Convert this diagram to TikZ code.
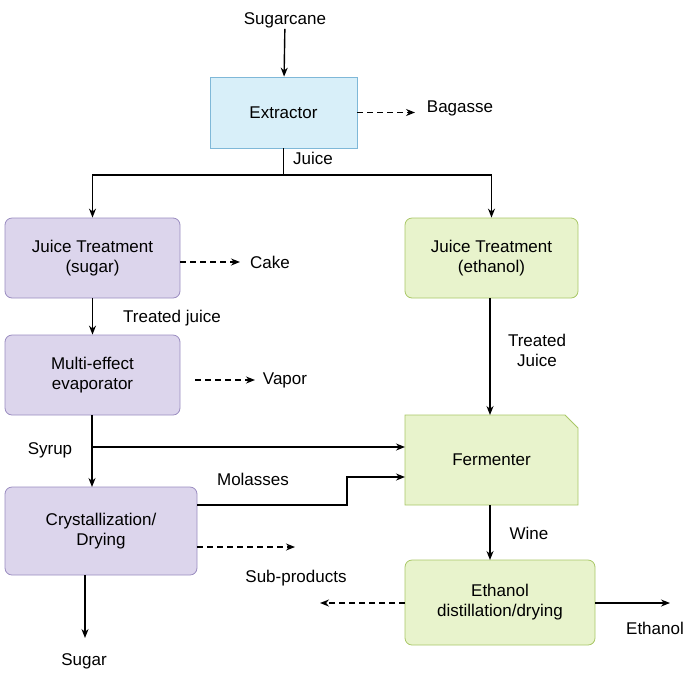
\documentclass[tikz,border=0pt]{standalone}
\usepackage{fontspec}
\setmainfont{Liberation Sans}
\usetikzlibrary{arrows.meta}
\definecolor{bluef}{HTML}{D8EFF9}\definecolor{blued}{HTML}{7FB8D8}
\definecolor{purf}{HTML}{DCD5EC}\definecolor{purd}{HTML}{9A8CC0}
\definecolor{grnf}{HTML}{E8F3CC}\definecolor{grnd}{HTML}{A9C766}
\begin{document}
\begin{tikzpicture}[x=1pt,y=-1pt,font=\fontsize{17}{20}\selectfont,
 box/.style={draw,line width=0.8pt,rounded corners=7pt,align=center,inner sep=0pt},
 pur/.style={box,fill=purf,draw=purd},
 grn/.style={box,fill=grnf,draw=grnd},
 arr/.style={-{Stealth[length=9pt,width=7pt]},line width=1.4pt},
 darr/.style={arr,dash pattern=on 6pt off 4pt},
 lbl/.style={inner sep=1pt}]
\useasboundingbox (0,0) rectangle (700,678);
\node[lbl] (cane) at (285,20) {Sugarcane};
\node[box,fill=bluef,draw=blued,rounded corners=0pt,minimum width=147,minimum height=71] (ext) at (283.5,112.5) {Extractor};
\node[lbl] (bag) at (460,108) {Bagasse};
\node[lbl] (juice) at (313,158) {Juice};
\node[pur,minimum width=175,minimum height=80] (jts) at (92.5,258) {Juice Treatment\\(sugar)};
\node[grn,minimum width=173,minimum height=80] (jte) at (491.5,258) {Juice Treatment\\(ethanol)};
\node[lbl] (cake) at (270,262) {Cake};
\node[lbl] (tj) at (172,318) {Treated juice};
\node[pur,minimum width=175,minimum height=80] (mee) at (92.5,375) {Multi-effect\\evaporator};
\node[lbl] (vap) at (285,380) {Vapor};
\node[lbl,align=center] (tj2) at (537,350) {Treated\\Juice};
\fill[grnf,draw=grnd,line width=0.8pt] (405,415) -- (565,415) -- (578,428) -- (578,505) -- (405,505) -- cycle;
\node[inner sep=0pt,minimum width=173,minimum height=90] (fer) at (491.5,460) {Fermenter};
\node[lbl] (syr) at (50,450) {Syrup};
\node[lbl] (mol) at (253,479) {Molasses};
\node[pur,minimum width=192,minimum height=88] (cry) at (101,531) {Crystallization/\\Drying};
\node[lbl] (sub) at (296,578) {Sub-products};
\node[lbl] (sug) at (84,661) {Sugar};
\node[lbl] (wine) at (529,533) {Wine};
\node[grn,minimum width=190,minimum height=85] (dist) at (500,602.5) {Ethanol\\distillation/drying};
\node[lbl] (eth) at (655,628) {Ethanol};
\coordinate (sp) at (295,547);
\coordinate (sl) at (320,603);
\coordinate (er) at (670,603);
\coordinate (sg) at (85,638);
\draw[arr] (cane) -- (ext);
\draw[darr] (ext.east) -- (415,112.5);
\draw[arr] (ext.south) -- (283.5,175) -| (jts.north);
\draw[arr] (283.5,175) -| (jte.north);
\draw[darr] (180,262) -- (240,262);
\draw[arr] (jts.south) -- (mee.north);
\draw[darr] (195,380) -- (255,380);
\draw[arr] (490,298) -- (490,415);
\draw[arr] (92,415) -- (92,487);
\draw[arr] (92,447) -- (405,447);
\draw[arr] (197,505) -- (347,505) -- (347,477) -- (405,477);
\draw[darr] (197,547) -- (sp);
\draw[arr] (85,575) -- (sg);
\draw[arr] (490,505) -- (490,560);
\draw[darr] (405,603) -- (sl);
\draw[arr] (595,603) -- (er);
\end{tikzpicture}
\end{document}
